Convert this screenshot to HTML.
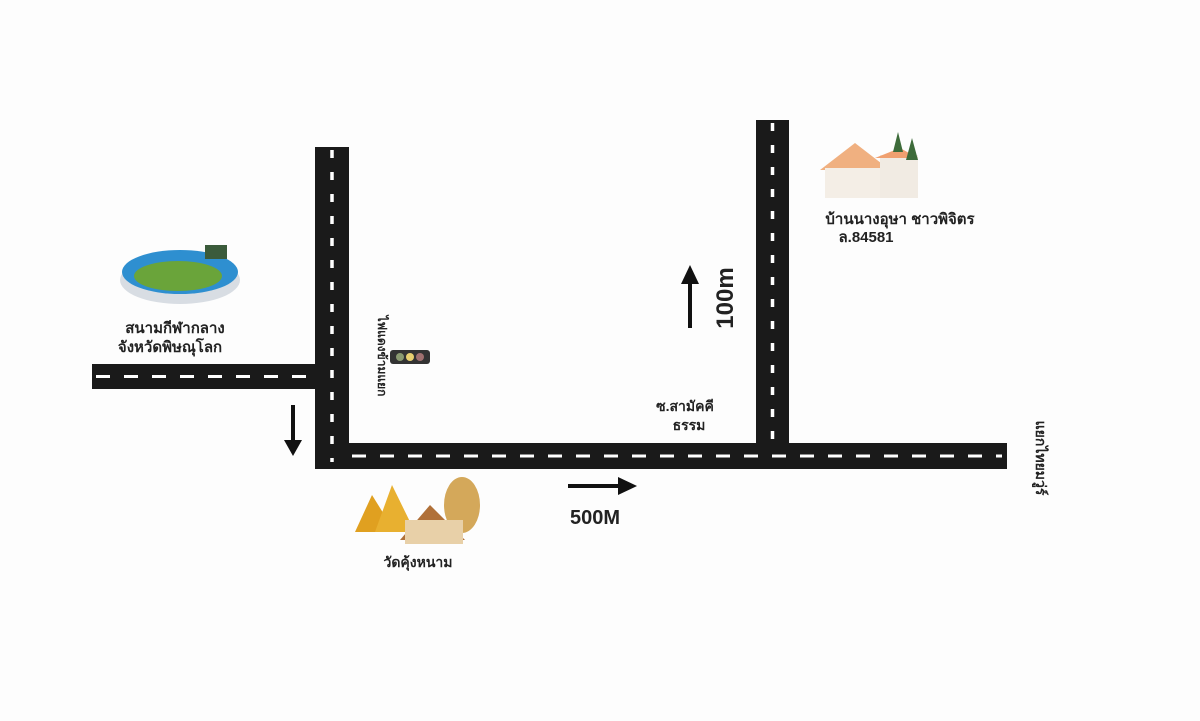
<!DOCTYPE html>
<html><head><meta charset="utf-8"><style>
body{margin:0;background:#fdfdfd;}
svg{display:block}
text{font-family:"Liberation Sans","Noto Sans CJK SC",sans-serif;font-weight:bold;fill:#222}
</style></head><body>
<svg width="1200" height="721" viewBox="0 0 1200 721">
<rect width="1200" height="721" fill="#fdfdfd"/>
<g fill="#1a1a1a">
<rect x="92" y="364" width="226" height="25"/>
<rect x="315" y="147" width="34" height="322"/>
<rect x="315" y="443" width="692" height="26"/>
<rect x="756" y="120" width="33" height="330"/>
</g>
<g stroke="#fff" stroke-width="3" stroke-dasharray="14 14">
<line x1="96" y1="376.5" x2="312" y2="376.5"/>
<line x1="352" y1="456" x2="1002" y2="456"/>
</g>
<g stroke="#fff" stroke-width="3.5" stroke-dasharray="8 14">
<line x1="332" y1="150" x2="332" y2="462"/>
<line x1="772.5" y1="123" x2="772.5" y2="450"/>
</g>
<g stroke="#111" stroke-width="4" fill="#111">
<line x1="293" y1="405" x2="293" y2="445"/>
<line x1="568" y1="486" x2="622" y2="486"/>
<line x1="690" y1="328" x2="690" y2="282"/>
</g>
<polygon points="284,440 302,440 293,456" fill="#111"/>
<polygon points="618,477 618,495 637,486" fill="#111"/>
<polygon points="681,284 699,284 690,265" fill="#111"/>
<text x="570" y="524" font-size="20">500M</text>
<text transform="translate(733,298) rotate(-90)" font-size="24" text-anchor="middle" font-family="Liberation Serif">100m</text>
<ellipse cx="180" cy="280" rx="60" ry="24" fill="#d8dde3"/>
<ellipse cx="180" cy="272" rx="58" ry="22" fill="#2e8fd0"/>
<ellipse cx="178" cy="276" rx="44" ry="15" fill="#6aa43a"/>
<rect x="205" y="245" width="22" height="14" fill="#3b5b3b"/>
<text x="175" y="333" font-size="15" text-anchor="middle">สนามกีฬากลาง</text>
<text x="170" y="352" font-size="15" text-anchor="middle">จังหวัดพิษณุโลก</text>
<rect x="390" y="350" width="40" height="14" rx="3" fill="#333"/>
<circle cx="400" cy="357" r="4" fill="#8a9a70"/><circle cx="410" cy="357" r="4" fill="#e8d070"/><circle cx="420" cy="357" r="4" fill="#a07070"/>
<text transform="translate(378,356) rotate(90)" font-size="12" text-anchor="middle">ไฟแดงข้ามแยก</text>
<polygon points="355,532 372,495 395,532" fill="#e0a020"/>
<polygon points="375,532 392,485 415,532" fill="#e8b030"/>
<ellipse cx="462" cy="505" rx="18" ry="28" fill="#d4a85a"/>
<polygon points="400,540 430,505 465,540" fill="#b07038"/>
<rect x="405" y="520" width="58" height="24" fill="#e8d0a8"/>
<text x="418" y="567" font-size="14" text-anchor="middle">วัดคุ้งหนาม</text>
<polygon points="820,170 855,143 890,170" fill="#f0b080"/>
<rect x="825" y="168" width="60" height="30" fill="#f4eee6"/>
<rect x="880" y="155" width="38" height="43" fill="#f1ebe3"/>
<polygon points="875,158 900,148 918,158" fill="#f0a070"/>
<polygon points="893,152 898,132 903,152" fill="#3d6b3a"/>
<polygon points="906,160 912,138 918,160" fill="#3d6b3a"/>
<text x="900" y="224" font-size="15" text-anchor="middle">บ้านนางอุษา ชาวพิจิตร</text>
<text x="866" y="242" font-size="15" text-anchor="middle">ล.84581</text>
<text x="685" y="411" font-size="14" text-anchor="middle">ซ.สามัคคี</text>
<text x="689" y="430" font-size="14" text-anchor="middle">ธรรม</text>
<text transform="translate(1036,458) rotate(90)" font-size="14" text-anchor="middle">แยกไทยมวู่ร์</text>
</svg>
</body></html>
